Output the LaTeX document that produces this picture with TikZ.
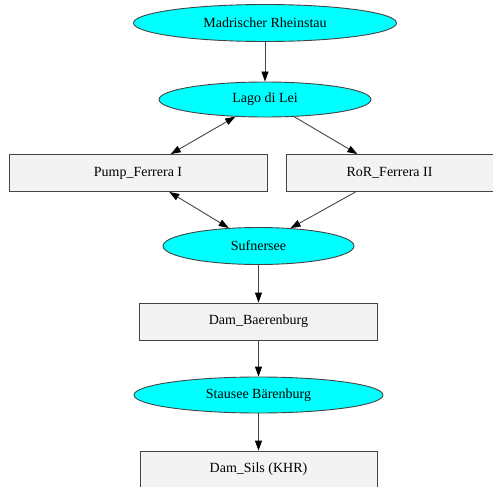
\documentclass[tikz,border=0pt]{standalone}
\usepackage{fontspec}
\setmainfont{Liberation Serif}
\usetikzlibrary{arrows.meta}
\usetikzlibrary{shapes.geometric}
\definecolor{lakecyan}{HTML}{00FFFF}
\definecolor{damgray}{HTML}{F3F3F3}
\definecolor{edgegray}{HTML}{444444}

\begin{document}
\begin{tikzpicture}[x=1pt, y=-1pt,
    lake/.style={ellipse, draw=edgegray, fill=lakecyan, line width=0.9pt, inner sep=0pt, font=\fontsize{14}{16}\selectfont},
    dam/.style={rectangle, draw=edgegray, fill=damgray, line width=0.9pt, inner sep=0pt, minimum height=37pt, font=\fontsize{14}{16}\selectfont},
    flow/.style={draw=edgegray, line width=0.9pt, -{Triangle[length=10pt, width=7pt, black]}},
    flowboth/.style={draw=edgegray, line width=0.9pt, {Triangle[length=10pt, width=7pt, black]}-{Triangle[length=10pt, width=7pt, black]}}]
    \useasboundingbox (0,0) rectangle (493,487);
    \node[lake, minimum width=263pt, minimum height=37pt] (madrisch) at (265,23) {Madrischer Rheinstau};
    \node[lake, minimum width=212pt, minimum height=35pt] (lei) at (265,99.5) {Lago di Lei};
    \node[dam, minimum width=258pt] (pump) at (138,173) {Pump\_Ferrera I};
    \node[dam, minimum width=207pt] (ror) at (389.5,173) {RoR\_Ferrera II};
    \node[lake, minimum width=191pt, minimum height=37pt] (sufner) at (258.5,246) {Sufnersee};
    \node[dam, minimum width=238pt] (dambaer) at (258.5,321.5) {Dam\_Baerenburg};
    \node[lake, minimum width=249pt, minimum height=36pt] (baer) at (258.5,395) {Stausee Bärenburg};
    \node[dam, minimum width=237pt] (damsils) at (258.5,469.5) {Dam\_Sils (KHR)};
    \draw[flow] (madrisch) -- (lei);
    \draw[flowboth] (pump) -- (lei);
    \draw[flow] (lei) -- (ror);
    \draw[flowboth] (pump) -- (sufner);
    \draw[flow] (ror) -- (sufner);
    \draw[flow] (sufner) -- (dambaer);
    \draw[flow] (dambaer) -- (baer);
    \draw[flow] (baer) -- (damsils);
  \end{tikzpicture}
\end{document}
